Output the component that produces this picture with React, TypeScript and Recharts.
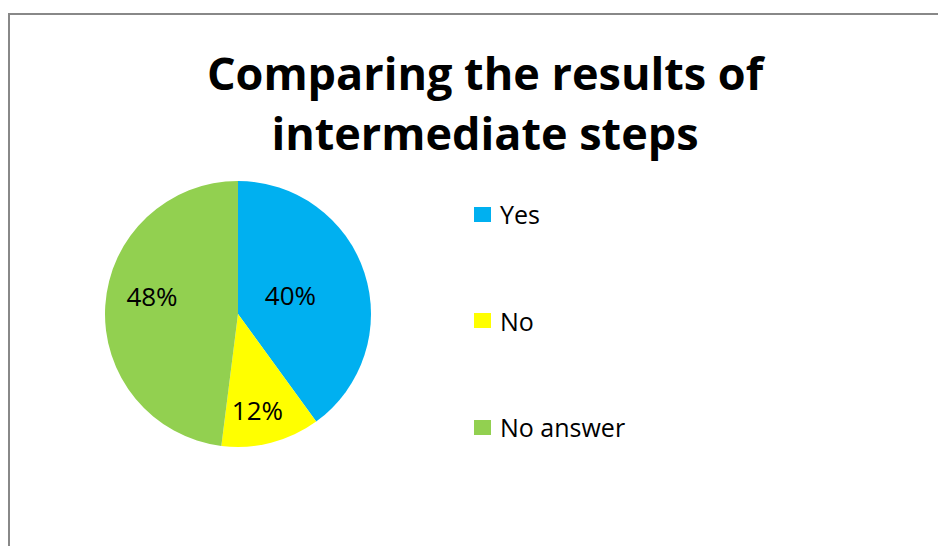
import { PieChart, Pie, Cell, Legend } from "recharts";

const categories = ["Yes", "No", "No answer"];
const shares = [40, 12, 48];
const colors = ["#00B0F0", "#FFFF00", "#92D050"];
const titleLines = ["Comparing the results of", "intermediate steps"];

const data = categories.map((name, i) => ({ name, value: shares[i] }));

const FONT = "'Open Sans', sans-serif";
const RAD = Math.PI / 180;
// Excel "best fit" label placement, roughly
const labelRadius = [0.42, 0.74, 0.66];
const labelTurn = [2, -3, -8];

const renderLabel = (props: any) => {
  const { cx, cy, midAngle, outerRadius, percent, index } = props;
  const r = outerRadius * labelRadius[index];
  const a = (midAngle + labelTurn[index]) * RAD;
  const x = cx + r * Math.cos(-a);
  const y = cy + r * Math.sin(-a);
  return (
    <text
      x={x}
      y={y}
      textAnchor="middle"
      dominantBaseline="central"
      fill="#000"
      fontSize={26}
      fontFamily={FONT}
    >
      {`${Math.round(percent * 100)}%`}
    </text>
  );
};

const LegendList = (props: any) => {
  // keep the data order (Yes, No, No answer) instead of alphabetical
  const items = [...(props.payload || [])].sort(
    (a: any, b: any) => categories.indexOf(a.value) - categories.indexOf(b.value)
  );
  return (
    <div style={{ fontFamily: FONT, fontSize: 25, color: "#000" }}>
      {items.map((p: any) => (
        <div
          key={p.value}
          style={{ display: "flex", alignItems: "center", height: 106.5 }}
        >
          <span
            style={{
              display: "inline-block",
              width: 17,
              height: 15,
              background: p.color,
              marginRight: 9,
            }}
          />
          <span>{p.value}</span>
        </div>
      ))}
    </div>
  );
};

export default function App() {
  return (
    <div
      style={{
        position: "relative",
        marginTop: 5,
        width: 936,
        height: 531,
        borderTop: "2px solid #888",
        borderLeft: "2px solid #888",
        background: "#fff",
        overflow: "hidden",
      }}
    >
      <div
        style={{
          position: "absolute",
          left: 0,
          top: 28,
          width: 950,
          textAlign: "center",
          fontFamily: FONT,
          fontWeight: 700,
          fontSize: 45,
          lineHeight: "60px",
          color: "#000",
        }}
      >
        {titleLines.map((t) => (
          <div key={t}>{t}</div>
        ))}
      </div>
      <div style={{ position: "absolute", left: 0, top: 0 }}>
        <PieChart width={936} height={531}>
          <Pie
            data={data}
            dataKey="value"
            nameKey="name"
            cx={223}
            cy={294}
            outerRadius={133}
            startAngle={90}
            endAngle={-270}
            stroke="none"
            labelLine={false}
            label={renderLabel}
            isAnimationActive={false}
          >
            {data.map((d, i) => (
              <Cell key={d.name} fill={colors[i]} />
            ))}
          </Pie>
          <Legend
            layout="vertical"
            content={<LegendList />}
            wrapperStyle={{ left: 464, top: 146, width: 300 }}
          />
        </PieChart>
      </div>
    </div>
  );
}
